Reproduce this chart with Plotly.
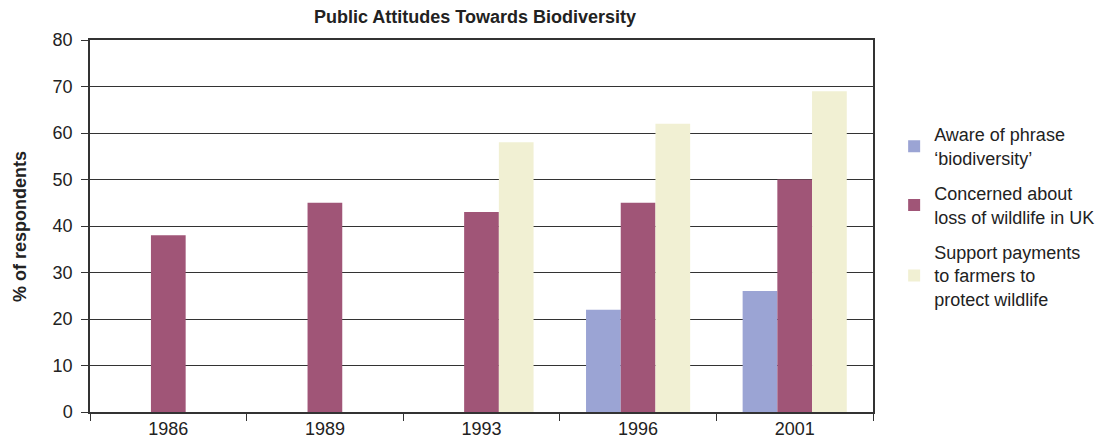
import plotly.graph_objects as go

# ======================================================
# Data
# ======================================================
years = ["1986", "1989", "1993", "1996", "2001"]

aware = [None, None, None, 22, 26]
concerned = [38, 45, 43, 45, 50]
support = [None, None, 58, 62, 69]

series_names = [
    "Aware of phrase<br>‘biodiversity’",
    "Concerned about<br>loss of wildlife in UK",
    "Support payments<br>to farmers to<br>protect wildlife",
]
series_colors = ["#9ba4d4", "#a05577", "#f1f0d3"]

y_ticks = [0, 10, 20, 30, 40, 50, 60, 70, 80]


# ======================================================
# Figure
# ======================================================
# page body has an 8px margin, so the figure is sized to fit inside the window
fig = go.Figure()

for i, (name, vals, color) in enumerate(
    zip(series_names, [aware, concerned, support], series_colors)
):
    fig.add_trace(go.Bar(
        x=years,
        y=vals,
        name=name,
        legendgroup=f"g{i}",
        marker=dict(color=color, line=dict(width=0)),
    ))

font_family = "Liberation Sans, Arial, sans-serif"

fig.update_layout(
    width=1096,
    height=435,
    barmode="group",
    bargap=0.335,
    bargroupgap=0,
    paper_bgcolor="white",
    plot_bgcolor="white",
    font=dict(family=font_family, size=17, color="#222222"),
    margin=dict(l=82, r=231, t=32, b=31, autoexpand=False),
    title=dict(
        text="<b>Public Attitudes Towards Biodiversity</b>",
        x=467 / 1096,
        xanchor="center",
        xref="container",
        y=1 - 9 / 435,
        yref="container",
        yanchor="middle",
        font=dict(size=18, color="#222222"),
    ),
    legend=dict(
        x=1.027,
        y=0.795,
        xanchor="left",
        yanchor="top",
        tracegroupgap=9,
        font=dict(size=18, color="#222222"),
        itemwidth=30,
    ),
    showlegend=True,
    annotations=[
        dict(
            text="<b>% of respondents</b>",
            textangle=-90,
            xref="paper",
            yref="paper",
            x=-0.0894,
            y=0.5,
            xanchor="center",
            yanchor="middle",
            showarrow=False,
            font=dict(size=18, color="#222222"),
        )
    ],
)

fig.update_xaxes(
    automargin=False,
    showline=True,
    linecolor="#333333",
    linewidth=1.5,
    mirror=True,
    ticks="outside",
    tickson="boundaries",
    ticklen=7,
    tickcolor="#333333",
    showgrid=False,
    tickfont=dict(size=18),
)

fig.update_yaxes(
    automargin=False,
    range=[0, 80],
    tickvals=y_ticks,
    showline=True,
    linecolor="#333333",
    linewidth=1.5,
    mirror=True,
    ticks="outside",
    ticklen=7,
    tickcolor="#333333",
    ticklabelstandoff=5,
    showgrid=True,
    gridcolor="#333333",
    gridwidth=1,
    zeroline=False,
    tickfont=dict(size=18),
)

fig.write_html("out.html")
